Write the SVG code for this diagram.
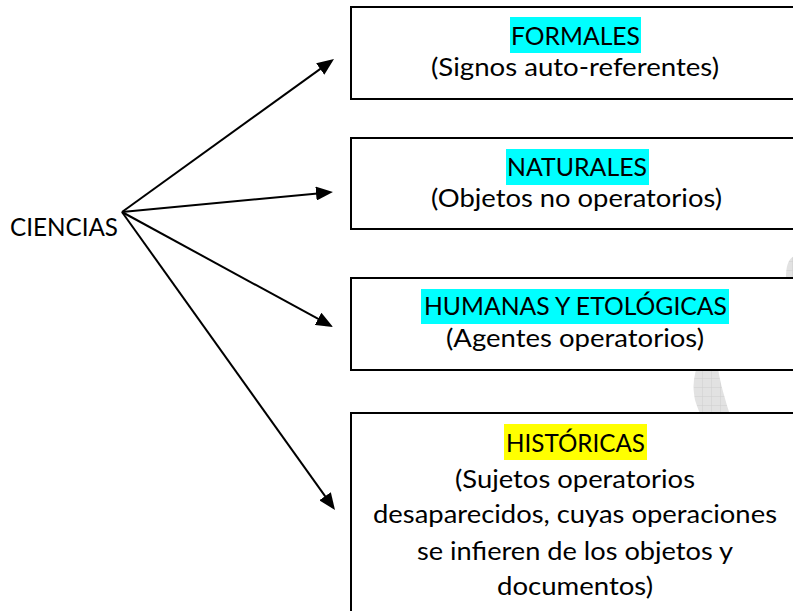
<svg xmlns="http://www.w3.org/2000/svg" width="793" height="611" viewBox="0 0 793 611">
  <style>
    .box { fill: #ffffff; stroke: #000000; stroke-width: 2; }
    .t { font-family: Lato, "Open Sans", "Liberation Sans", sans-serif; font-size: 25.5px; fill: #000000; text-anchor: middle; }
    .cyan { fill: #00ffff; }
    .yellow { fill: #ffff00; }
    .conn { stroke: #000000; stroke-width: 2; fill: none; marker-end: url(#arrow); }
  </style>
  <defs>
    <marker id="arrow" markerUnits="userSpaceOnUse" markerWidth="18" markerHeight="14" refX="7" refY="7" orient="auto">
      <path d="M0,0 L17,7 L0,14 Z" fill="#000000"/>
    </marker>
    <pattern id="grid" width="9" height="9" patternUnits="userSpaceOnUse">
      <rect width="9" height="9" fill="#e2e2e2"/>
      <path d="M0,0 H9 M0,0 V9" stroke="#cfcfcf" stroke-width="1"/>
    </pattern>
  </defs>
  <rect width="793" height="611" fill="#ffffff"/>

  <!-- faint watermark -->
  <path d="M800 255 C790 255 786 262 786 278 L700 360 C694 372 692 385 695 400 C698 410 703 420 710 440 L760 500 L740 440 C733 425 728 410 724 395 C721 385 719 375 718 368 L800 300 Z" fill="url(#grid)"/>

  <g id="connectors">
    <line class="conn" x1="122" y1="212" x2="325.9" y2="64.9"/>
    <line class="conn" x1="122" y1="212" x2="323.0" y2="192.9"/>
    <line class="conn" x1="122" y1="212" x2="324.2" y2="322.2"/>
    <line class="conn" x1="122" y1="212" x2="329.2" y2="501.9"/>
  </g>

  <g id="ciencias">
    <text class="t" x="64" y="236" textLength="108" lengthAdjust="spacingAndGlyphs">CIENCIAS</text>
  </g>

  <g id="formales">
    <rect class="box" x="351" y="7" width="460" height="92"/>
    <rect class="cyan" x="510" y="17" width="131" height="36"/>
    <text class="t" x="575.5" y="45" textLength="129" lengthAdjust="spacingAndGlyphs">FORMALES</text>
    <text class="t" x="575" y="76" textLength="288" lengthAdjust="spacingAndGlyphs">(Signos auto-referentes)</text>
  </g>

  <g id="naturales">
    <rect class="box" x="351" y="138" width="460" height="91"/>
    <rect class="cyan" x="506" y="149" width="143" height="36"/>
    <text class="t" x="577" y="176" textLength="140" lengthAdjust="spacingAndGlyphs">NATURALES</text>
    <text class="t" x="576.5" y="207" textLength="291" lengthAdjust="spacingAndGlyphs">(Objetos no operatorios)</text>
  </g>

  <g id="humanas">
    <rect class="box" x="351" y="278" width="460" height="92"/>
    <rect class="cyan" x="421" y="289" width="308" height="35"/>
    <text class="t" x="575.5" y="315" textLength="303" lengthAdjust="spacingAndGlyphs">HUMANAS Y ETOLÓGICAS</text>
    <text class="t" x="575" y="347" textLength="258" lengthAdjust="spacingAndGlyphs">(Agentes operatorios)</text>
  </g>

  <g id="historicas">
    <rect class="box" x="351" y="413" width="460" height="240"/>
    <rect class="yellow" x="504" y="424" width="143" height="36"/>
    <text class="t" x="575.5" y="452" textLength="139" lengthAdjust="spacingAndGlyphs">HISTÓRICAS</text>
    <text class="t" x="575" y="488" textLength="240" lengthAdjust="spacingAndGlyphs">(Sujetos operatorios</text>
    <text class="t" x="575" y="523" textLength="404" lengthAdjust="spacingAndGlyphs">desaparecidos, cuyas operaciones</text>
    <text class="t" x="575" y="560" textLength="316" lengthAdjust="spacingAndGlyphs">se infieren de los objetos y</text>
    <text class="t" x="575" y="595" textLength="156" lengthAdjust="spacingAndGlyphs">documentos)</text>
  </g>
</svg>
